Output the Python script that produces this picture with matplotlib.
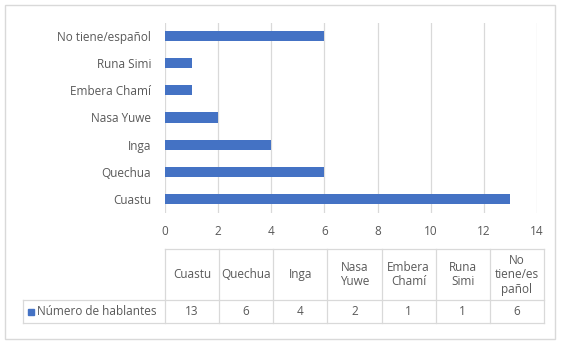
import matplotlib
matplotlib.use("Agg")
import matplotlib.pyplot as plt
from matplotlib.patches import Rectangle
from matplotlib.lines import Line2D

# data
languages = ["Cuastu", "Quechua", "Inga", "Nasa Yuwe", "Embera Chamí", "Runa Simi", "No tiene/español"]
table_headers = ["Cuastu", "Quechua", "Inga", "Nasa\nYuwe", "Embera\nChamí", "Runa\nSimi", "No\ntiene/es\npañol"]
speakers = [13, 6, 4, 2, 1, 1, 6]
series_name = "Número de hablantes"
x_ticks = [0, 2, 4, 6, 8, 10, 12, 14]

BAR = "#4472C4"
GRID = "#D9D9D9"
TEXT = "#595959"
W, H = 569, 346
FS = 8.5

plt.rcParams["font.family"] = ["Open Sans", "DejaVu Sans"]


def fx(px):
    return px / W


def fy(py):
    return 1 - py / H


fig = plt.figure(figsize=(W / 100, H / 100), dpi=100)

# chart area border
fig.add_artist(Rectangle((fx(5), fy(339)), fx(555) - fx(5), fy(5) - fy(339),
                         transform=fig.transFigure, fill=False, edgecolor=GRID, lw=1))

ax = fig.add_axes([fx(165), fy(212.5), fx(537) - fx(165), fy(22.5) - fy(212.5)])
ax.barh(range(len(languages)), speakers, height=0.37, color=BAR, zorder=3)
ax.set_xlim(0, 14)
ax.set_ylim(-0.5, len(languages) - 0.5)
ax.set_xticks(x_ticks)
ax.set_yticks(range(len(languages)))
ax.set_yticklabels(languages)
ax.grid(axis="x", color=GRID, lw=0.9, zorder=0)
for s in ax.spines.values():
    s.set_visible(False)
ax.tick_params(length=0, colors=TEXT, labelsize=FS)
ax.tick_params(axis="y", pad=10)
ax.tick_params(axis="x", pad=9)

# data table
col_edges = [165 + i * (544 - 165) / len(table_headers) for i in range(len(table_headers) + 1)]
top, mid, bot = 249, 300, 323
left = 22.5


def hline(y, x0, x1):
    fig.add_artist(Line2D([fx(x0), fx(x1)], [fy(y), fy(y)], transform=fig.transFigure,
                          color=GRID, lw=0.9))


def vline(x, y0, y1):
    fig.add_artist(Line2D([fx(x), fx(x)], [fy(y0), fy(y1)], transform=fig.transFigure,
                          color=GRID, lw=0.9))


hline(top, col_edges[0], col_edges[-1])
hline(mid, left, col_edges[-1])
hline(bot, left, col_edges[-1])
vline(left, mid, bot)
for x in col_edges:
    vline(x, top, bot)

for i, (hdr, val) in enumerate(zip(table_headers, speakers)):
    cx = (col_edges[i] + col_edges[i + 1]) / 2
    fig.text(fx(cx), fy((top + mid) / 2), hdr, ha="center", va="center",
             color=TEXT, fontsize=FS, linespacing=1.15)
    fig.text(fx(cx), fy((mid + bot) / 2), str(val), ha="center", va="center",
             color=TEXT, fontsize=FS)

fig.add_artist(Rectangle((fx(28), fy(315)), fx(6), fy(308.5) - fy(315),
                         transform=fig.transFigure, color=BAR))
fig.text(fx(37), fy((mid + bot) / 2), series_name, ha="left", va="center",
         color=TEXT, fontsize=FS)

fig.savefig("out.png", dpi=100)
